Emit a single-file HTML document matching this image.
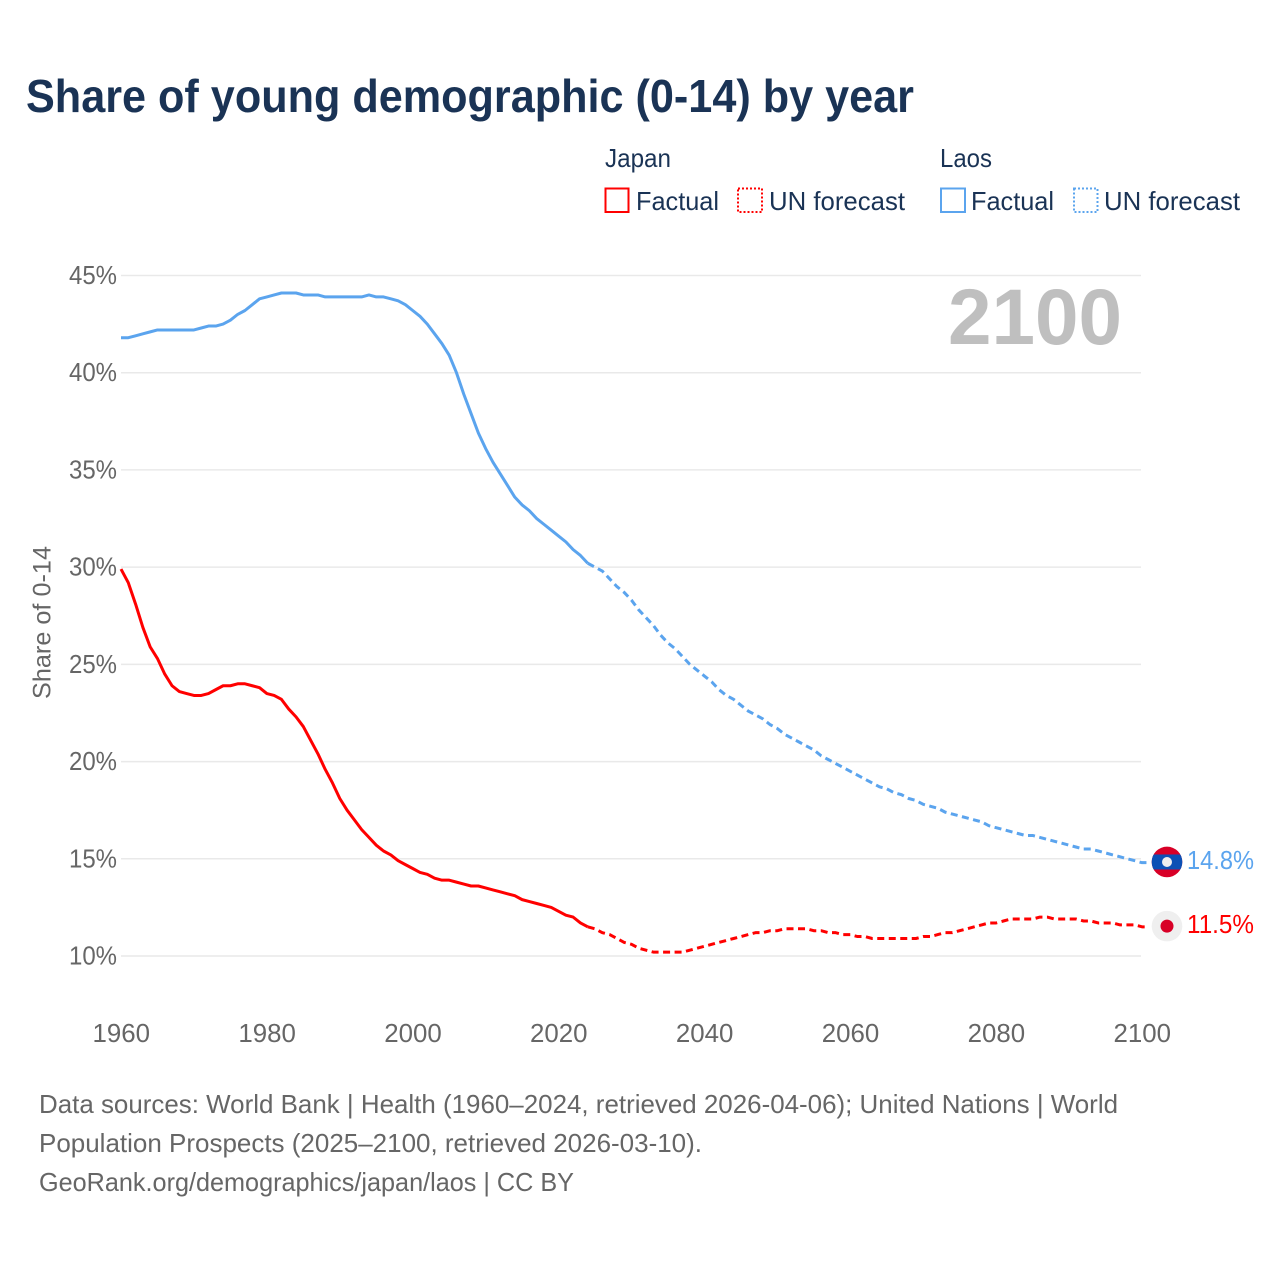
<!DOCTYPE html>
<html lang="en">
<head>
<meta charset="utf-8">
<title>Share of young demographic (0-14) by year</title>
<style>
html,body{margin:0;padding:0;background:#fff}
svg{display:block}
text{font-family:"Liberation Sans",Arial,sans-serif}
</style>
</head>
<body>
<svg id="chart" xmlns="http://www.w3.org/2000/svg" width="1280" height="1280" viewBox="0 0 1280 1280">
<defs>
<clipPath id="laos-clip"><circle cx="1167" cy="862" r="15.300"/></clipPath>
</defs>
<rect x="0" y="0" width="1280" height="1280" fill="#fff"/>
<text x="26" y="112" font-size="46" font-weight="700" fill="#1a3355" textLength="888" lengthAdjust="spacingAndGlyphs">Share of young demographic (0-14) by year</text>

<g>
<text x="605" y="167" font-size="26" fill="#1a3355" textLength="66" lengthAdjust="spacingAndGlyphs">Japan</text>
<rect x="605.5" y="188.5" width="23" height="23.500" fill="none" stroke="#ff0000" stroke-width="2"/>
<text x="636" y="210" font-size="26" fill="#1a3355" textLength="83" lengthAdjust="spacingAndGlyphs">Factual</text>
<rect x="738" y="188.5" width="24" height="23.500" fill="none" stroke="#ff0000" stroke-width="2" stroke-dasharray="2 2"/>
<text x="769" y="210" font-size="26" fill="#1a3355" textLength="136" lengthAdjust="spacingAndGlyphs">UN forecast</text>
<text x="940" y="167" font-size="26" fill="#1a3355" textLength="52" lengthAdjust="spacingAndGlyphs">Laos</text>
<rect x="941" y="188.5" width="24" height="23.500" fill="none" stroke="#5ba4ee" stroke-width="2"/>
<text x="971" y="210" font-size="26" fill="#1a3355" textLength="83" lengthAdjust="spacingAndGlyphs">Factual</text>
<rect x="1074" y="188.5" width="23.500" height="23.500" fill="none" stroke="#5ba4ee" stroke-width="2" stroke-dasharray="2 2"/>
<text x="1104" y="210" font-size="26" fill="#1a3355" textLength="136" lengthAdjust="spacingAndGlyphs">UN forecast</text>
</g>

<g id="grid"></g>
<g id="y-axis"></g>
<g id="x-axis"></g>
<text transform="translate(50.500,699) rotate(-90)" font-size="25" fill="#666" textLength="153" lengthAdjust="spacingAndGlyphs">Share of 0-14</text>
<text x="948" y="344" font-size="79" font-weight="700" fill="#bfbfbf" textLength="174" lengthAdjust="spacingAndGlyphs">2100</text>
<g id="series"></g>

<g id="markers"></g>

<g font-size="26" fill="#666">
<text x="39" y="1113" textLength="1079" lengthAdjust="spacingAndGlyphs">Data sources: World Bank | Health (1960–2024, retrieved 2026-04-06); United Nations | World</text>
<text x="39" y="1152" textLength="663" lengthAdjust="spacingAndGlyphs">Population Prospects (2025–2100, retrieved 2026-03-10).</text>
<text x="39" y="1191" textLength="535" lengthAdjust="spacingAndGlyphs">GeoRank.org/demographics/japan/laos | CC BY</text>
</g>
</svg>

<script>
const firstYear = 1960;
const lastFactualYear = 2024;
const yTicks = [10, 15, 20, 25, 30, 35, 40, 45];
const xTicks = [1960, 1980, 2000, 2020, 2040, 2060, 2080, 2100];

const japanValues = [
29.9,29.2,28.1,26.9,25.9,25.3,24.5,23.9,23.6,23.5,
23.4,23.4,23.5,23.7,23.9,23.9,24.0,24.0,23.9,23.8,
23.5,23.4,23.2,22.7,22.3,21.8,21.1,20.4,19.6,18.9,
18.1,17.5,17.0,16.5,16.1,15.7,15.4,15.2,14.9,14.7,
14.5,14.3,14.2,14.0,13.9,13.9,13.8,13.7,13.6,13.6,
13.5,13.4,13.3,13.2,13.1,12.9,12.8,12.7,12.6,12.5,
12.3,12.1,12.0,11.7,11.5,11.4,11.2,11.1,10.9,10.7,
10.6,10.4,10.3,10.2,10.2,10.2,10.2,10.2,10.3,10.4,
10.5,10.6,10.7,10.8,10.9,11.0,11.1,11.2,11.2,11.3,
11.3,11.4,11.4,11.4,11.4,11.3,11.3,11.2,11.2,11.1,
11.1,11.0,11.0,10.9,10.9,10.9,10.9,10.9,10.9,10.9,
11.0,11.0,11.1,11.2,11.2,11.3,11.4,11.5,11.6,11.7,
11.7,11.8,11.9,11.9,11.9,11.9,12.0,12.0,11.9,11.9,
11.9,11.9,11.8,11.8,11.7,11.7,11.7,11.6,11.6,11.6,
11.5];

const laosValues = [
41.8,41.8,41.9,42.0,42.1,42.2,42.2,42.2,42.2,42.2,
42.2,42.3,42.4,42.4,42.5,42.7,43.0,43.2,43.5,43.8,
43.9,44.0,44.1,44.1,44.1,44.0,44.0,44.0,43.9,43.9,
43.9,43.9,43.9,43.9,44.0,43.9,43.9,43.8,43.7,43.5,
43.2,42.9,42.5,42.0,41.5,40.9,40.0,38.9,37.9,36.9,
36.1,35.4,34.8,34.2,33.6,33.2,32.9,32.5,32.2,31.9,
31.6,31.3,30.9,30.6,30.2,30.0,29.8,29.4,29.0,28.7,
28.3,27.8,27.4,27.0,26.5,26.1,25.8,25.4,25.0,24.7,
24.4,24.1,23.7,23.4,23.2,22.9,22.6,22.4,22.2,21.9,
21.7,21.4,21.2,21.0,20.8,20.6,20.3,20.1,19.9,19.7,
19.5,19.3,19.1,18.9,18.7,18.6,18.4,18.3,18.1,18.0,
17.8,17.7,17.6,17.4,17.3,17.2,17.1,17.0,16.9,16.7,
16.6,16.5,16.4,16.3,16.2,16.2,16.1,16.0,15.9,15.8,
15.7,15.6,15.5,15.5,15.4,15.3,15.2,15.1,15.0,14.9,
14.8];

const NS = 'http://www.w3.org/2000/svg';
function xScale(year) { return 121 + (year - 1960) * (1021 / 140); }
function yScale(v) { return 956 - (v - 10) * (680.5 / 35); }
function make(tag, attrs, parent, txt) {
  const el = document.createElementNS(NS, tag);
  for (const k in attrs) el.setAttribute(k, attrs[k]);
  if (txt !== undefined) el.textContent = txt;
  parent.appendChild(el);
  return el;
}
const grid = document.getElementById('grid');
const yAxis = document.getElementById('y-axis');
const xAxis = document.getElementById('x-axis');
const series = document.getElementById('series');
const markers = document.getElementById('markers');

yTicks.forEach(function (t) {
  const y = yScale(t);
  const line = make('line', {x1: 121, x2: 1141, y1: y, y2: y, stroke: '#e9e9e9', 'stroke-width': 1.5}, grid);
  
  
  const label = make('text', {x: 117, y: y + 8.500, 'text-anchor': 'end', 'font-size': 25.500, fill: '#666', textLength: 48, lengthAdjust: 'spacingAndGlyphs'}, yAxis, t + '%');
  
  
});

xTicks.forEach(function (t) {
  const label = make('text', {x: xScale(t) - 28.500, y: 1042, 'font-size': 25.500, fill: '#666', textLength: 57.500, lengthAdjust: 'spacingAndGlyphs'}, xAxis, String(t));
  
  
});

function pathFor(values, from, to) {
  let d = '';
  for (let i = from; i <= to; i++) {
    d += (i === from ? 'M' : 'L') + xScale(firstYear + i).toFixed(2) + ' ' + yScale(values[i]).toFixed(2);
  }
  return d;
}

function drawSeries(name, values, color) {
  const split = lastFactualYear - firstYear;
  const last = values.length - 1;
  const factual = make('path', {d: pathFor(values, 0, split), fill: 'none', stroke: color, 'stroke-width': 3, 'stroke-linejoin': 'round'}, series);
  
  
  const forecast = make('path', {d: pathFor(values, split, last) + 'L' + (xScale(firstYear + last) + 7) + ' ' + yScale(values[last]).toFixed(2), fill: 'none', stroke: color, 'stroke-width': 3, 'stroke-dasharray': '7 4.500', 'stroke-linejoin': 'round'}, series);
  
  
}
drawSeries('laos', laosValues, '#5ba4ee');
drawSeries('japan', japanValues, '#ff0000');

const laosLast = laosValues[laosValues.length - 1];
const japanLast = japanValues[japanValues.length - 1];
const laosY = yScale(laosLast) - 0.700;
const japanY = yScale(japanLast) - 0.700;

const laosFlag = make('g', {transform: 'translate(0,' + (laosY - 862) + ')'}, markers);


const laosClip = make('g', {'clip-path': 'url(#laos-clip)'}, laosFlag);
make('rect', {x: 1151, y: 846, width: 32, height: 32, fill: '#d80027'}, laosClip);
make('rect', {x: 1151, y: 854.5, width: 32, height: 15, fill: '#0b50b5'}, laosClip);
make('circle', {cx: 1167, cy: 862, r: 5, fill: '#eeeeee'}, laosFlag);

const japanFlag = make('g', {}, markers);


make('circle', {cx: 1167, cy: japanY, r: 15.300, fill: '#efefef'}, japanFlag);
make('circle', {cx: 1167, cy: japanY, r: 6.500, fill: '#d80027'}, japanFlag);

const laosLabel = make('text', {x: 1187, y: laosY + 7, 'font-size': 26, fill: '#5ba4ee', textLength: 67, lengthAdjust: 'spacingAndGlyphs'}, markers, laosLast.toFixed(1) + '%');


const japanLabel = make('text', {x: 1187, y: japanY + 7, 'font-size': 26, fill: '#ff0000', textLength: 67, lengthAdjust: 'spacingAndGlyphs'}, markers, japanLast.toFixed(1) + '%');


</script>
</body>
</html>
